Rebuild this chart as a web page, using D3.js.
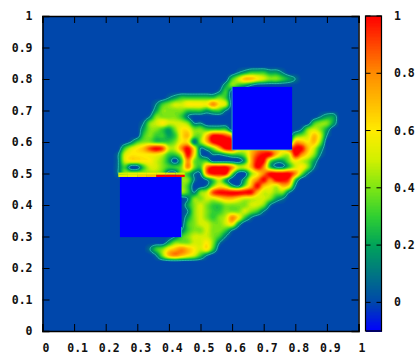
<!DOCTYPE html>
<html>
<head>
<meta charset="utf-8">
<script src="https://cdn.jsdelivr.net/npm/d3@7"></script>
<style>
  html, body { margin: 0; background: #fff; }
  text { font-family: "DejaVu Sans Mono", monospace; font-weight: bold; font-size: 11.5px; fill: #111; }
</style>
</head>
<body>
<svg id="chart" width="420" height="360"></svg>
<script>
// sampled field, tenths of z, x = gridX0 + i*gridStep, y = gridY0 - j*gridStep
const gridX0 = 0.22, gridY0 = 0.84, gridStep = 0.02;
const zRows = [
[0,0,0,0,0,0,0,0,0,0,0,0,0,0,0,0,0,0,0,0,0,0,0,0,0,0,0,0,0,0,0,0,0,0,0,0,0],
[0,0,0,0,0,0,0,0,0,0,0,0,0,0,0,0,0,0,0,0,1,2,3,3,3,2,2,1,0,0,0,0,0,0,0,0,0],
[0,0,0,0,0,0,0,0,0,0,0,0,0,0,0,0,0,0,0,3,5,7,7,6,5,4,4,3,2,1,0,0,0,0,0,0,0],
[0,0,0,0,0,0,0,0,0,0,0,0,0,0,0,0,0,0,2,4,3,2,1,0,0,0,0,0,0,0,0,0,0,0,0,0,0],
[0,0,0,0,0,0,0,0,0,0,0,0,0,0,0,0,0,1,3,0,0,0,0,0,0,0,0,0,0,0,0,0,0,0,0,0,0],
[0,0,0,0,0,0,0,0,0,1,2,3,3,3,3,3,3,4,3,0,0,0,0,0,0,0,0,0,0,0,0,0,0,0,0,0,0],
[0,0,0,0,0,0,0,1,3,4,5,5,6,6,6,6,8,6,5,0,0,0,0,0,0,0,0,0,0,0,0,0,0,0,0,0,0],
[0,0,0,0,0,0,0,2,4,4,4,4,3,3,3,2,3,3,1,0,0,0,0,0,0,0,0,0,0,0,0,0,0,0,0,0,0],
[0,0,0,0,0,0,1,4,4,4,4,3,1,0,0,0,0,0,0,0,0,0,0,0,0,0,0,0,0,0,0,0,0,1,2,2,0],
[0,0,0,0,0,1,4,5,6,5,5,5,4,1,1,0,0,0,0,0,0,0,0,0,0,0,0,0,0,0,0,0,3,4,4,2,0],
[0,0,0,0,0,2,4,4,3,2,4,6,6,4,4,3,3,3,3,0,0,0,0,0,0,0,0,0,0,0,1,4,5,4,2,0,0],
[0,0,0,0,0,3,4,3,3,2,3,6,7,4,4,7,10,10,9,7,0,0,0,0,0,0,0,0,0,3,4,5,7,5,1,0,0],
[0,0,0,1,3,4,4,3,3,3,4,6,6,1,4,7,10,11,11,10,0,0,0,0,0,0,0,0,0,7,7,6,7,4,0,0,0],
[0,0,3,5,6,7,9,10,9,5,5,8,10,6,1,2,4,7,10,10,6,5,6,7,7,6,6,6,8,10,10,7,5,2,0,0,0],
[0,1,5,6,6,6,6,6,5,3,3,5,10,6,1,0,1,1,2,3,3,4,7,9,10,10,7,5,5,10,8,6,4,1,0,0,0],
[0,1,5,6,6,6,6,5,4,2,0,3,8,4,3,3,0,0,0,0,0,2,7,10,10,4,2,2,4,6,5,4,2,0,0,0,0],
[0,1,3,0,0,3,5,5,4,3,3,4,8,4,3,8,10,10,10,8,5,5,7,10,8,3,1,1,3,5,6,4,1,0,0,0,0],
[0,1,4,4,4,4,4,4,3,0,0,4,3,1,1,8,10,10,10,4,0,0,4,6,8,10,10,10,10,8,4,1,0,0,0,0,0],
[0,0,0,0,0,0,0,0,0,0,0,4,4,1,0,1,3,5,2,0,0,2,6,8,10,8,10,10,9,3,0,0,0,0,0,0,0],
[0,0,0,0,0,0,0,0,0,0,0,4,3,0,0,1,4,6,5,2,1,4,7,10,7,6,5,7,6,1,0,0,0,0,0,0,0],
[0,0,0,0,0,0,0,0,0,0,0,4,3,1,4,5,9,10,10,10,10,10,10,7,5,5,4,4,1,0,0,0,0,0,0,0,0],
[0,0,0,0,0,0,0,0,0,0,0,0,1,4,4,5,5,6,7,7,6,5,5,5,5,4,2,1,0,0,0,0,0,0,0,0,0],
[0,0,0,0,0,0,0,0,0,0,0,0,2,4,5,4,3,3,4,4,4,4,5,5,4,1,0,0,0,0,0,0,0,0,0,0,0],
[0,0,0,0,0,0,0,0,0,0,0,0,1,4,5,4,3,3,4,4,4,5,4,3,1,0,0,0,0,0,0,0,0,0,0,0,0],
[0,0,0,0,0,0,0,0,0,0,0,0,2,4,5,4,3,4,5,8,6,3,1,0,0,0,0,0,0,0,0,0,0,0,0,0,0],
[0,0,0,0,0,0,0,0,0,0,0,0,3,4,5,5,4,4,5,6,2,0,0,0,0,0,0,0,0,0,0,0,0,0,0,0,0],
[0,0,0,0,0,0,0,0,0,0,0,1,3,4,4,5,4,4,3,1,0,0,0,0,0,0,0,0,0,0,0,0,0,0,0,0,0],
[0,0,0,0,0,0,0,0,0,0,1,3,4,5,5,5,4,3,1,0,0,0,0,0,0,0,0,0,0,0,0,0,0,0,0,0,0],
[0,0,0,0,0,0,0,0,0,2,4,4,4,5,5,6,4,1,0,0,0,0,0,0,0,0,0,0,0,0,0,0,0,0,0,0,0],
[0,0,0,0,0,0,1,3,4,6,7,8,7,6,5,6,3,0,0,0,0,0,0,0,0,0,0,0,0,0,0,0,0,0,0,0,0],
[0,0,0,0,0,0,0,1,4,7,8,7,6,5,3,1,0,0,0,0,0,0,0,0,0,0,0,0,0,0,0,0,0,0,0,0,0],
[0,0,0,0,0,0,0,0,0,0,0,0,0,0,0,0,0,0,0,0,0,0,0,0,0,0,0,0,0,0,0,0,0,0,0,0,0]
];

// masked squares, drawn at the lowest z
const blockX0 = [0.245, 0.6];
const blockX1 = [0.44, 0.79];
const blockY0 = [0.298, 0.575];
const blockY1 = [0.489, 0.775];
const blockZ = -0.1;

// two thin rows sitting on top of the left square
const stripX = [0.24, 0.27, 0.30, 0.33, 0.36, 0.39, 0.42, 0.45];
const stripTopZ = [0.5, 0.55, 0.58, 0.6, 0.6, 0.55, 0.5];
const stripLowZ = [0.55, 0.58, 0.66, 0.7, 1, 1, 1];
const stripY0 = 0.489, stripYm = 0.496, stripY1 = 0.503;

// bits of the contour hugging the square edges
const edgeRight = [[0.6, 0.775], [0.6, 0.575], [0.79, 0.575]];
const edgeLeft = [[0.44, 0.298], [0.44, 0.33]];

const xTicks = [0, 0.1, 0.2, 0.3, 0.4, 0.5, 0.6, 0.7, 0.8, 0.9, 1];
const cbTicks = [0, 0.2, 0.4, 0.6, 0.8, 1];
const paletteZ = [-0.1, 0, 0.2, 0.3, 0.4, 0.5, 0.6, 0.8, 1];
const paletteC = ["#0000ff", "#0047ab", "#00a35a", "#2fcf32", "#7de614", "#d2f000", "#ffeb00", "#ff8c00", "#ff0000"];

const x = d3.scaleLinear().domain([0, 1]).range([42.5, 358.5]);
const y = d3.scaleLinear().domain([0, 1]).range([331, 16]);
const cb = d3.scaleLinear().domain([-0.1, 1]).range([331, 16]);
const color = d3.scaleLinear().domain(paletteZ).range(paletteC).clamp(true);

const svg = d3.select("#chart");

svg.append("rect")
    .attr("x", x(0)).attr("y", y(1))
    .attr("width", x(1) - x(0)).attr("height", y(0) - y(1))
    .attr("fill", color(0));

// catmull-rom resample so the bands come out round, like pm3d interpolate
const nRows = zRows.length, nCols = zRows[0].length;
const f = 4;
function cr(a, b, c, d, t) {
    return 0.5 * (2 * b + (c - a) * t + (2 * a - 5 * b + 4 * c - d) * t * t + (3 * b - a - 3 * c + d) * t * t * t);
}
function zAt(r, c) {
    const rr = Math.max(0, Math.min(nRows - 1, r)), cc = Math.max(0, Math.min(nCols - 1, c));
    return zRows[rr][cc] / 10;
}
const fineW = (nCols - 1) * f + 1, fineH = (nRows - 1) * f + 1;
const flat = new Array(fineW * fineH);
for (let m = 0; m < fineH; m++) {
    const r = Math.floor(m / f), tr = m / f - r;
    for (let n = 0; n < fineW; n++) {
        const c = Math.floor(n / f), tc = n / f - c;
        const col = [-1, 0, 1, 2].map(k =>
            cr(zAt(r + k, c - 1), zAt(r + k, c), zAt(r + k, c + 1), zAt(r + k, c + 2), tc));
        flat[m * fineW + n] = Math.max(0, cr(col[0], col[1], col[2], col[3], tr));
    }
}

const levels = d3.range(0.01, 1.0, 0.02);
const contours = d3.contours().size([fineW, fineH]);
const toPx = d3.geoTransform({
    point(cx, cy) {
        this.stream.point(x(gridX0 + (cx - 0.5) / f * gridStep), y(gridY0 - (cy - 0.5) / f * gridStep));
    }
});
const path = d3.geoPath(toPx);

svg.append("g").selectAll("path")
    .data(contours.thresholds(levels)(flat))
    .join("path")
    .attr("d", path)
    .attr("fill", d => color(d.value + 0.01));

// cyan contour line
svg.append("g").selectAll("path")
    .data(contours.thresholds([0.1])(flat))
    .join("path")
    .attr("d", path)
    .attr("fill", "none")
    .attr("stroke", "#35d6b8")
    .attr("stroke-width", 0.7);

svg.append("g").selectAll("rect")
    .data(blockX0)
    .join("rect")
    .attr("x", (d, i) => x(blockX0[i]))
    .attr("y", (d, i) => y(blockY1[i]))
    .attr("width", (d, i) => x(blockX1[i]) - x(blockX0[i]))
    .attr("height", (d, i) => y(blockY0[i]) - y(blockY1[i]))
    .attr("fill", color(blockZ));

function drawStrip(vals, yLow, yHigh) {
    svg.append("g").selectAll("rect")
        .data(vals)
        .join("rect")
        .attr("x", (d, i) => x(stripX[i]))
        .attr("y", y(yHigh))
        .attr("width", (d, i) => x(stripX[i + 1]) - x(stripX[i]))
        .attr("height", y(yLow) - y(yHigh))
        .attr("fill", d => color(d));
}
drawStrip(stripTopZ, stripYm, stripY1);
drawStrip(stripLowZ, stripY0, stripYm);

const line = d3.line().x(d => x(d[0])).y(d => y(d[1]));
svg.append("g").selectAll("path")
    .data([edgeRight, edgeLeft])
    .join("path")
    .attr("d", line)
    .attr("fill", "none")
    .attr("stroke", "#35d6b8")
    .attr("stroke-width", 0.7);

// frame and axes, gnuplot style ticks pointing in
const fmt = d => String(d);
function styleAxis(g) {
    g.select(".domain").attr("stroke", "#000").attr("stroke-width", 1.5);
    g.selectAll(".tick line").attr("stroke", "#000").attr("stroke-width", 1);
    g.selectAll(".tick text").attr("fill", "#111");
}
svg.append("g").attr("transform", `translate(0,${y(0)})`)
    .call(d3.axisBottom(x).tickValues(xTicks).tickFormat(fmt).tickSize(-7).tickPadding(13))
    .call(styleAxis)
    .call(g => g.selectAll(".tick text").attr("dx", 3));
svg.append("g").attr("transform", `translate(0,${y(1)})`)
    .call(d3.axisTop(x).tickValues(xTicks).tickFormat("").tickSize(-7))
    .call(styleAxis);
svg.append("g").attr("transform", `translate(${x(0)},0)`)
    .call(d3.axisLeft(y).tickValues(xTicks).tickFormat(fmt).tickSize(-7).tickPadding(10))
    .call(styleAxis);
svg.append("g").attr("transform", `translate(${x(1)},0)`)
    .call(d3.axisRight(y).tickValues(xTicks).tickFormat("").tickSize(-7))
    .call(styleAxis);

// colour bar
const cbLeft = 365.5, cbRight = 381.5;
const cbVals = d3.range(-0.1, 1.0, 0.005);
svg.append("g").attr("shape-rendering", "crispEdges").selectAll("rect")
    .data(cbVals)
    .join("rect")
    .attr("x", cbLeft)
    .attr("y", d => cb(d + 0.005))
    .attr("width", cbRight - cbLeft)
    .attr("height", d => cb(d) - cb(d + 0.005) + 1)
    .attr("fill", d => color(d));
svg.append("rect")
    .attr("x", cbLeft).attr("y", cb(1))
    .attr("width", cbRight - cbLeft).attr("height", cb(-0.1) - cb(1))
    .attr("fill", "none").attr("stroke", "#000").attr("stroke-width", 1.2);
svg.append("g").selectAll("line")
    .data(cbTicks.flatMap(t => [[t, cbLeft, cbLeft + 5], [t, cbRight - 5, cbRight]]))
    .join("line")
    .attr("x1", d => d[1]).attr("x2", d => d[2])
    .attr("y1", d => cb(d[0])).attr("y2", d => cb(d[0]))
    .attr("stroke", "#000");
svg.append("g").selectAll("text")
    .data(cbTicks)
    .join("text")
    .attr("x", 394)
    .attr("y", d => cb(d))
    .attr("dy", "0.35em")
    .text(fmt);
</script>
</body>
</html>
